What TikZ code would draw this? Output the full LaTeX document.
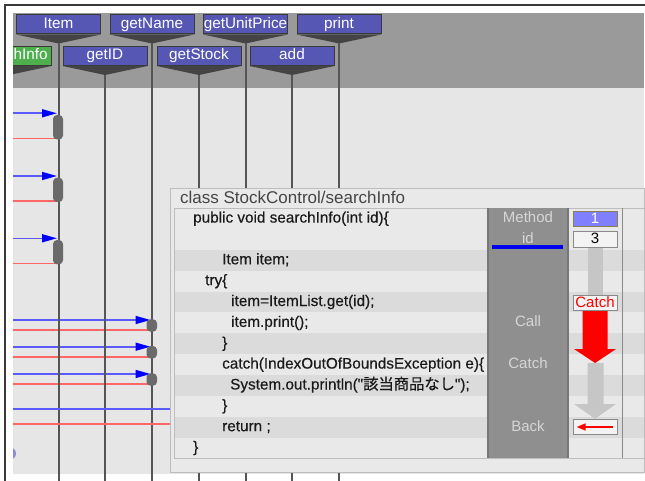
\documentclass[tikz,border=0pt]{standalone}
\usepackage{fontspec}
\setmainfont{Liberation Sans}
\newfontfamily\codefont[FakeBold=0.4]{Liberation Sans}
\newfontfamily\cjk[FakeBold=0.4]{Noto Sans CJK JP}
\usetikzlibrary{arrows.meta,calc}

\definecolor{frameline}{HTML}{3A3A3A}
\definecolor{headband}{HTML}{9A9A9A}
\definecolor{canvas}{HTML}{E6E6E6}
\definecolor{objfill}{HTML}{5656B4}
\definecolor{objgreen}{HTML}{4DB04D}
\definecolor{objedge}{HTML}{3A3A3A}
\definecolor{chevron}{HTML}{444444}
\definecolor{lifeline}{HTML}{555555}
\definecolor{actfill}{HTML}{6A6A6A}
\definecolor{callblue}{HTML}{5A5AFF}
\definecolor{tipblue}{HTML}{0000FF}
\definecolor{retred}{HTML}{FF6666}
\definecolor{panelfill}{HTML}{E9E9E9}
\definecolor{paneledge}{HTML}{BDBDBD}
\definecolor{rowlight}{HTML}{E9E9E9}
\definecolor{rowdark}{HTML}{DBDBDB}
\definecolor{codetext}{HTML}{1A1A1A}
\definecolor{titletext}{HTML}{454545}
\definecolor{colfill}{HTML}{8F8F8F}
\definecolor{coledge}{HTML}{777777}
\definecolor{collabel}{HTML}{D6D6D6}
\definecolor{slotblue}{HTML}{8080FF}
\definecolor{slotedge}{HTML}{8A8048}
\definecolor{slotfill}{HTML}{F3F3F3}
\definecolor{slotgray}{HTML}{8A8A8A}
\definecolor{trackgray}{HTML}{C6C6C6}
\definecolor{flowred}{HTML}{FF0000}
\definecolor{idblue}{HTML}{0000F0}
\definecolor{blob}{HTML}{8C8CDC}

\tikzset{
  px15/.style={font=\fontsize{15}{18}\selectfont},
  objbox/.style={draw=objedge, line width=1pt, fill=objfill, text=white,
    font=\fontsize{15.3}{18}\selectfont,
    minimum width=84pt, minimum height=19pt, inner sep=0pt,
    text height=11pt, text depth=3pt},
  chev/.style={fill=chevron},
  life/.style={draw=lifeline, line width=2pt},
  call/.style={draw=callblue, line width=1.6pt, shorten >=1.5pt,
    -{Triangle[length=15pt,width=8pt,color=tipblue]}},
  callplain/.style={draw=callblue, line width=1.6pt},
  ret/.style={draw=retred, line width=1.6pt},
  act/.style={fill=actfill, rounded corners=4pt},
  codeline/.style={anchor=west, font=\codefont\fontsize{15.3}{18}\selectfont,
    text=codetext, inner sep=0pt, text height=11pt, text depth=3pt},
  collab/.style={px15, text=collabel, inner sep=0pt, text height=11pt, text depth=3pt},
  slot/.style={draw=slotgray, fill=slotfill, line width=0.8pt, minimum width=44pt,
    minimum height=15.6pt, inner sep=0pt, px15, text height=11pt, text depth=3pt},
}

\begin{document}
\begin{tikzpicture}[x=1pt,y=-1pt]
\useasboundingbox (0,0) rectangle (645,481);
\fill[white] (0,0) rectangle (645,481);
\fill[canvas] (13,13) rectangle (644,474);
\fill[headband] (13,13) rectangle (644,88);
\draw[frameline, line width=2pt] (5,481) -- (5,5) -- (645,5);
\coordinate (floor) at (0,481);

% object heads with their chevrons
\foreach \nm/\lab/\cx/\cy in {item/Item/58.5/24.5, getname/getName/152/24.5,
    getunit/getUnitPrice/245.5/24.5, print/print/339/24.5,
    getid/getID/105/56, getstock/getStock/199/56, add/add/292/56} {
  \node[objbox] (\nm) at (\cx,\cy) {\lab};
  \fill[chev] (\nm.south west) -- (\nm.south east) -- ($(\nm.south)+(0,9)$) -- cycle;
  \coordinate (\nm-tip) at ($(\nm.south)+(0,9)$);
}
% the caller's head, cut by the left edge
\begin{scope}
  \clip (13,0) rectangle (100,100);
  \node[objbox, fill=objgreen, text=objgreen] (search) at (9,56) {};
  \fill[chev] (search.south west) -- (search.south east) -- ($(search.south)+(0,9)$) -- cycle;
\end{scope}
\node[text=white, anchor=west, inner sep=0pt, text height=11pt, text depth=3pt,
  font=\fontsize{15.3}{18}\selectfont] (searchlab) at (13.5,56) {hInfo};

% calls into Item
\foreach \y/\r [count=\i] in {113.3/138.5, 176/201, 238.3/263.3} {
  \coordinate (ic\i) at (13,\y);
  \coordinate (ir\i) at (13,\r);
  \draw[call] (ic\i) -- (ic\i -| item-tip);
  \draw[ret] (ir\i) -- (ir\i -| item-tip);
}
% calls into getName
\foreach \y/\r [count=\i] in {320/330, 346.7/356.7, 374/384} {
  \coordinate (nc\i) at (13,\y);
  \coordinate (nr\i) at (13,\r);
  \draw[call] (nc\i) -- (nc\i -| getname-tip);
  \draw[ret] (nr\i) -- (nr\i -| getname-tip);
}

% lifelines
\foreach \nm in {item,getname,getunit,print,getid,getstock,add}
  \draw[life] (\nm-tip) -- (\nm-tip |- floor);

% activations
\foreach \y/\r in {113.3/138.5, 176/201, 238.3/263.3}
  \fill[act] (53,\y+1.7) rectangle (63,\r+1);
\foreach \y/\r in {320/330, 346.7/356.7, 374/384}
  \fill[act] (146.5,\y-0.7) rectangle (157,\r+1.7);

% lingering partial shape at the left edge
\begin{scope}
  \clip (13,440) rectangle (24,470);
  \fill[blob] (9,453.5) ellipse [x radius=7, y radius=6.5];
\end{scope}

% source panel
\node[draw=paneledge, fill=panelfill, line width=1pt, minimum width=474pt,
  minimum height=284pt, inner sep=0pt, anchor=north west] (panel) at (170,188) {};
\coordinate (lc) at (13,409);
\coordinate (lr) at (13,424);
\draw[callplain] (lc) -- (lc -| panel.west);
\draw[ret] (lr) -- (lr -| panel.west);

\node[anchor=base west, inner sep=0pt, text=titletext,
  font=\fontsize{17}{20}\selectfont] (title) at (180,204) {class StockControl/searchInfo};

% code rows
\fill[rowlight] (174,208.2) rectangle (644,458.4);
\foreach \k in {3,5,7,9,11}
  \fill[rowdark] (174,{208.2+20.85*(\k-1)}) rectangle (644,{208.2+20.85*\k});
\draw[paneledge, line width=0.8pt] (644,208.2) -- (174,208.2) -- (174,458.4) -- (644,458.4);

\node[codeline] (code1) at (193,218.6) {public void searchInfo(int id)\{};
\node[codeline] (code3) at (222,260.3) {Item item;};
\node[codeline] (code4) at (205,281.2) {try\{};
\node[codeline] (code5) at (231,302.0) {item=ItemList.get(id);};
\node[codeline] (code6) at (231,322.9) {item.print();};
\node[codeline] (code7) at (222,343.7) {\}};
\node[codeline] (code8) at (222,364.6) {catch(IndexOutOfBoundsException e)\{};
\node[codeline] (code9) at (230,385.5) {System.out.println("{\cjk 該当商品なし}");};
\node[codeline] (code10) at (222,406.3) {\}};
\node[codeline] (code11) at (222,427.2) {return ;};
\node[codeline] (code12) at (193,448.0) {\}};

% state column
\fill[colfill] (487,208.2) rectangle (569,458.4);
\draw[coledge, line width=2pt] (488,208.2) -- (488,458.4);
\draw[coledge, line width=2pt] (568,208.2) -- (568,458.4);
\node[collab] (lmethod) at (528,218.6) {Method};
\node[collab] (lid) at (528,239.5) {id};
\draw[idblue, line width=3.5pt] (492,247) -- (563,247);
\node[collab] (lcall) at (528,322.9) {Call};
\node[collab] (lcatch) at (528,364.6) {Catch};
\node[collab] (lback) at (528,427.2) {Back};

\draw[slotgray, line width=1pt] (622,208.2) -- (622,458.4);

% value slots and control flow
\node[slot, fill=slotblue, draw=slotedge, text=white] (s1) at (595,219) {1};
\node[slot, text=black] (s3) at (595,239.5) {3};
\node[slot, text=flowred] (scatch) at (595,303) {Catch};
\node[slot] (sback) at (595,427) {};
\fill[trackgray] ($(s3.south)+(-7.5,0)$) rectangle ($(scatch.north)+(7.5,0)$);

\fill[trackgray] (587.5,363) -- (603.5,363) -- (603.5,404) -- (616,404)
  -- (sback.north) -- (574,404) -- (587.5,404) -- cycle;
\fill[flowred] ($(scatch.south)+(-12.5,0)$) -- ($(scatch.south)+(12.5,0)$)
  -- (607.5,349) -- (616,349) -- (595,363) -- (574,349) -- (582.5,349) -- cycle;
\draw[flowred, line width=1.6pt, -{Triangle[length=9pt,width=7pt]}]
  ($(sback.east)+(-4,0)$) -- ($(sback.west)+(4,0)$);
\end{tikzpicture}
\end{document}
